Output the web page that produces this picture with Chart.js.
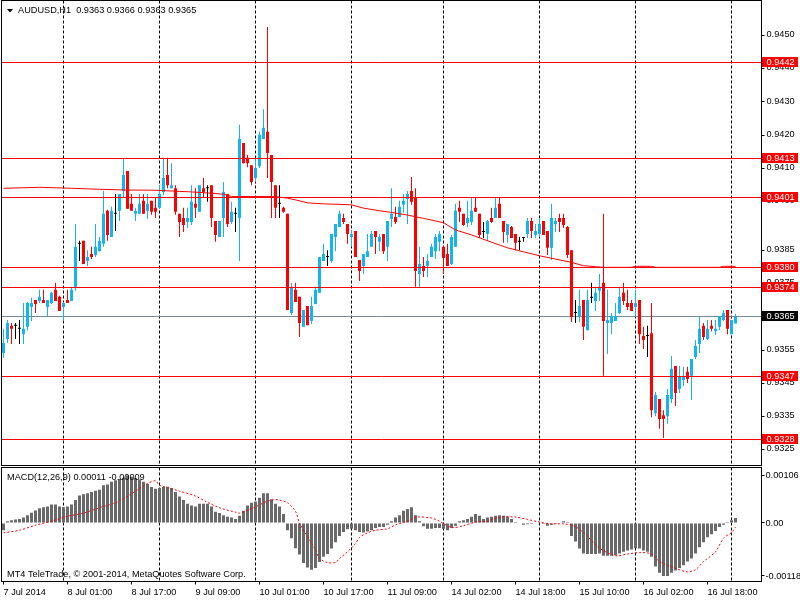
<!DOCTYPE html>
<html>
<head>
<meta charset="utf-8">
<script src="https://cdn.jsdelivr.net/npm/chart.js@4.4.1/dist/chart.umd.min.js"></script>
<style>
  html, body { margin: 0; padding: 0; background: #fff; }
  #wrap { position: relative; width: 800px; height: 600px; overflow: hidden; background: #fff; }
  canvas { position: absolute; left: 0; }
  #main { top: 0; }
  #macd { top: 466px; }
</style>
</head>
<body>
<div id="wrap">
  <canvas id="main" width="800" height="466"></canvas>
  <canvas id="macd" width="800" height="134"></canvas>
</div>
<script>
// AUDUSD H1, one slot per hourly bar (190 slots, 184 bars drawn)
const SLOTS = 190;

const open = [
  0.93541, 0.93583, 0.93623, 0.93623, 0.93614, 0.93598, 0.93620, 0.93680, 0.93701, 0.93698,
  0.93701, 0.93680, 0.93692, 0.93732, 0.93711, 0.93680, 0.93701, 0.93698, 0.93741, 0.93871,
  0.93880, 0.93819, 0.93840, 0.93837, 0.93849, 0.93871, 0.93971, 0.93892, 0.93962, 0.93971,
  0.94031, 0.94091, 0.93992, 0.93962, 0.93962, 0.94001, 0.93971, 0.94001, 0.93980, 0.93980,
  0.94028, 0.94079, 0.94039, 0.94039, 0.93962, 0.93949, 0.93937, 0.93937, 0.93992, 0.93968,
  0.94039, 0.94039, 0.94048, 0.93940, 0.93892, 0.93949, 0.94022, 0.93937, 0.93962, 0.93949,
  0.94176, 0.94131, 0.94109, 0.94070, 0.94106, 0.94188, 0.94210, 0.94140, 0.94048, 0.93992,
  0.93980, 0.93962, 0.93662, 0.93732, 0.93711, 0.93620, 0.93683, 0.93638, 0.93689, 0.93723,
  0.93819, 0.93831, 0.93819, 0.93892, 0.93922, 0.93949, 0.93931, 0.93892, 0.93910, 0.93822,
  0.93804, 0.93831, 0.93862, 0.93910, 0.93877, 0.93901, 0.93862, 0.93946, 0.93952, 0.93952,
  0.93989, 0.94007, 0.94031, 0.94013, 0.93780, 0.93804, 0.93804, 0.93831, 0.93849, 0.93877,
  0.93862, 0.93840, 0.93810, 0.93862, 0.93980, 0.93962, 0.93934, 0.93937, 0.93980, 0.93962,
  0.93907, 0.93901, 0.93949, 0.93949, 0.93992, 0.93940, 0.93898, 0.93922, 0.93901, 0.93877,
  0.93889, 0.93901, 0.93940, 0.93898, 0.93901, 0.93940, 0.93910, 0.93859, 0.93931, 0.93949,
  0.93949, 0.93922, 0.93852, 0.93662, 0.93650, 0.93701, 0.93610, 0.93708, 0.93698, 0.93729,
  0.93753, 0.93632, 0.93632, 0.93638, 0.93662, 0.93723, 0.93692, 0.93692, 0.93680, 0.93701,
  0.93592, 0.93592, 0.93601, 0.93359, 0.93402, 0.93353, 0.93350, 0.93402, 0.93502, 0.93432,
  0.93459, 0.93484, 0.93472, 0.93529, 0.93568, 0.93623, 0.93583, 0.93623, 0.93607, 0.93620,
  0.93641, 0.93671, 0.93598, 0.93630
];
const high = [
  0.93614, 0.93641, 0.93632, 0.93632, 0.93641, 0.93692, 0.93695, 0.93708, 0.93701, 0.93732,
  0.93732, 0.93701, 0.93726, 0.93753, 0.93714, 0.93695, 0.93732, 0.93741, 0.93931, 0.93880,
  0.93880, 0.93852, 0.93862, 0.93931, 0.93892, 0.94031, 0.93974, 0.93983, 0.94022, 0.94022,
  0.94131, 0.94091, 0.94022, 0.93980, 0.94022, 0.94022, 0.94022, 0.94001, 0.94013, 0.94048,
  0.94131, 0.94131, 0.94115, 0.94048, 0.93962, 0.93980, 0.93980, 0.94048, 0.94039, 0.94048,
  0.94070, 0.94048, 0.94048, 0.93940, 0.93940, 0.94058, 0.94022, 0.93998, 0.93980, 0.94231,
  0.94176, 0.94140, 0.94109, 0.94131, 0.94210, 0.94278, 0.94527, 0.94140, 0.94048, 0.94048,
  0.93983, 0.93962, 0.93753, 0.93753, 0.93711, 0.93671, 0.93683, 0.93711, 0.93741, 0.93831,
  0.93871, 0.93852, 0.93901, 0.93931, 0.93971, 0.93962, 0.93931, 0.93910, 0.93910, 0.93822,
  0.93840, 0.93901, 0.93910, 0.93910, 0.93901, 0.93901, 0.93940, 0.94039, 0.93983, 0.94001,
  0.94022, 0.94031, 0.94073, 0.94039, 0.93862, 0.93831, 0.93840, 0.93871, 0.93901, 0.93910,
  0.93865, 0.93871, 0.93898, 0.93992, 0.94001, 0.93962, 0.94001, 0.94010, 0.94010, 0.93962,
  0.93937, 0.93943, 0.93980, 0.94010, 0.94010, 0.93940, 0.93931, 0.93925, 0.93901, 0.93892,
  0.93889, 0.93949, 0.93949, 0.93931, 0.93949, 0.93940, 0.93910, 0.93992, 0.93949, 0.93962,
  0.93962, 0.93925, 0.93852, 0.93701, 0.93732, 0.93701, 0.93732, 0.93753, 0.93741, 0.93780,
  0.93962, 0.93732, 0.93662, 0.93692, 0.93741, 0.93753, 0.93732, 0.93701, 0.93732, 0.93701,
  0.93620, 0.93623, 0.93692, 0.93423, 0.93402, 0.93368, 0.93432, 0.93532, 0.93502, 0.93502,
  0.93499, 0.93499, 0.93523, 0.93580, 0.93653, 0.93632, 0.93641, 0.93641, 0.93641, 0.93653,
  0.93671, 0.93671, 0.93641, 0.93660
];
const low = [
  0.93526, 0.93571, 0.93568, 0.93583, 0.93568, 0.93568, 0.93610, 0.93638, 0.93662, 0.93692,
  0.93692, 0.93653, 0.93689, 0.93698, 0.93668, 0.93641, 0.93692, 0.93698, 0.93729, 0.93819,
  0.93810, 0.93804, 0.93825, 0.93831, 0.93849, 0.93862, 0.93880, 0.93892, 0.93910, 0.93940,
  0.94010, 0.93977, 0.93971, 0.93940, 0.93962, 0.93962, 0.93946, 0.93959, 0.93949, 0.93977,
  0.94019, 0.94039, 0.94039, 0.93959, 0.93892, 0.93907, 0.93919, 0.93928, 0.93949, 0.93968,
  0.94010, 0.93998, 0.93922, 0.93877, 0.93892, 0.93892, 0.93922, 0.93931, 0.93907, 0.93819,
  0.94115, 0.94103, 0.94048, 0.94058, 0.94100, 0.94188, 0.94070, 0.93949, 0.93949, 0.93949,
  0.93965, 0.93671, 0.93656, 0.93695, 0.93589, 0.93620, 0.93625, 0.93629, 0.93689, 0.93723,
  0.93819, 0.93804, 0.93813, 0.93849, 0.93922, 0.93931, 0.93871, 0.93862, 0.93831, 0.93759,
  0.93780, 0.93831, 0.93862, 0.93840, 0.93849, 0.93840, 0.93819, 0.93922, 0.93931, 0.93952,
  0.93965, 0.93931, 0.93989, 0.93741, 0.93741, 0.93771, 0.93771, 0.93831, 0.93825, 0.93849,
  0.93780, 0.93804, 0.93807, 0.93862, 0.93937, 0.93925, 0.93922, 0.93928, 0.93968, 0.93889,
  0.93889, 0.93880, 0.93934, 0.93949, 0.93949, 0.93874, 0.93874, 0.93889, 0.93852, 0.93852,
  0.93877, 0.93889, 0.93889, 0.93889, 0.93892, 0.93898, 0.93837, 0.93822, 0.93907, 0.93907,
  0.93919, 0.93828, 0.93635, 0.93632, 0.93635, 0.93580, 0.93610, 0.93692, 0.93668, 0.93698,
  0.93472, 0.93538, 0.93598, 0.93638, 0.93659, 0.93686, 0.93671, 0.93668, 0.93650, 0.93568,
  0.93553, 0.93529, 0.93347, 0.93350, 0.93312, 0.93284, 0.93327, 0.93390, 0.93381, 0.93420,
  0.93441, 0.93450, 0.93399, 0.93523, 0.93541, 0.93580, 0.93580, 0.93607, 0.93595, 0.93610,
  0.93638, 0.93598, 0.93598, 0.93630
];
const close = [
  0.93571, 0.93632, 0.93614, 0.93623, 0.93614, 0.93614, 0.93692, 0.93692, 0.93689, 0.93711,
  0.93692, 0.93701, 0.93723, 0.93698, 0.93668, 0.93692, 0.93692, 0.93732, 0.93862, 0.93871,
  0.93810, 0.93831, 0.93831, 0.93862, 0.93880, 0.93962, 0.93898, 0.93971, 0.93962, 0.94022,
  0.94079, 0.93977, 0.93971, 0.93971, 0.93992, 0.93962, 0.93992, 0.93968, 0.93968, 0.94022,
  0.94070, 0.94048, 0.94048, 0.93968, 0.93937, 0.93928, 0.93949, 0.93998, 0.93980, 0.94048,
  0.94028, 0.94039, 0.93949, 0.93898, 0.93940, 0.94028, 0.93931, 0.93968, 0.93962, 0.94188,
  0.94115, 0.94115, 0.94058, 0.94100, 0.94201, 0.94222, 0.94146, 0.94058, 0.93980, 0.93992,
  0.93968, 0.93671, 0.93741, 0.93695, 0.93632, 0.93671, 0.93625, 0.93683, 0.93732, 0.93831,
  0.93840, 0.93831, 0.93901, 0.93931, 0.93962, 0.93937, 0.93901, 0.93901, 0.93831, 0.93789,
  0.93840, 0.93849, 0.93901, 0.93892, 0.93892, 0.93849, 0.93940, 0.93962, 0.93937, 0.93983,
  0.94001, 0.94022, 0.93998, 0.93789, 0.93810, 0.93789, 0.93819, 0.93862, 0.93892, 0.93901,
  0.93828, 0.93804, 0.93892, 0.93971, 0.93968, 0.93928, 0.93949, 0.93971, 0.93968, 0.93898,
  0.93907, 0.93940, 0.93937, 0.93980, 0.93949, 0.93907, 0.93931, 0.93889, 0.93874, 0.93877,
  0.93889, 0.93940, 0.93910, 0.93910, 0.93931, 0.93898, 0.93859, 0.93949, 0.93940, 0.93937,
  0.93928, 0.93837, 0.93650, 0.93662, 0.93683, 0.93620, 0.93701, 0.93708, 0.93723, 0.93741,
  0.93638, 0.93641, 0.93653, 0.93653, 0.93711, 0.93698, 0.93680, 0.93668, 0.93692, 0.93598,
  0.93580, 0.93592, 0.93368, 0.93414, 0.93341, 0.93341, 0.93414, 0.93493, 0.93420, 0.93469,
  0.93469, 0.93462, 0.93523, 0.93562, 0.93614, 0.93589, 0.93614, 0.93614, 0.93614, 0.93653,
  0.93662, 0.93614, 0.93641, 0.93650
];

// moving average at these bars
const maIdx = [0, 9, 17, 24, 30, 38, 47, 51, 55, 57, 68, 71, 73, 76, 80, 87, 90, 94, 97, 101,
  105, 110, 113, 117, 122, 126, 130, 134, 138, 142, 145, 148, 150, 157, 158, 162, 163, 179, 180, 183];
const maVal = [0.94039, 0.94042, 0.94039, 0.94036, 0.94034, 0.94033, 0.94028, 0.94025, 0.94021, 0.94014,
  0.94014, 0.94009, 0.94004, 0.93995, 0.93992, 0.93989, 0.93979, 0.93971, 0.93966, 0.93958,
  0.93948, 0.93935, 0.93913, 0.93898, 0.93876, 0.93859, 0.93847, 0.93835, 0.93825, 0.93815,
  0.93805, 0.93802, 0.93800, 0.93800, 0.93803, 0.93803, 0.93800, 0.93800, 0.93803, 0.93803];

// MACD(12,26,9) in points (1 point = 0.00001)
const macdHist = [
  -16, 4, 6, 8, 9, 12, 17, 23, 28, 33,
  35, 37, 41, 41, 37, 35, 37, 41, 51, 61,
  64, 66, 69, 72, 74, 84, 86, 92, 95, 98,
  101, 106, 103, 100, 97, 92, 87, 80, 76, 78,
  80, 81, 78, 69, 59, 51, 43, 39, 37, 43,
  43, 43, 37, 25, 22, 17, 14, 12, 9, 16,
  27, 39, 45, 48, 56, 66, 66, 53, 43, 37,
  20, -16, -34, -56, -70, -89, -99, -104, -100, -87,
  -75, -69, -57, -43, -29, -20, -14, -13, -16, -20,
  -21, -19, -16, -11, -9, -9, -4, 4, 12, 17,
  27, 31, 35, 17, 4, -7, -13, -13, -11, -11,
  -13, -16, -11, -6, 4, 6, 9, 14, 20, 16,
  9, 12, 14, 16, 17, 16, 14, 9, 2, -1,
  -4, -3, -2, -1, -1, -2, -6, -4, -2, 0,
  4, 2, -29, -41, -57, -68, -69, -69, -69, -68,
  -73, -73, -73, -72, -68, -64, -61, -59, -56, -57,
  -61, -64, -75, -97, -111, -118, -118, -111, -106, -100,
  -94, -86, -79, -68, -54, -43, -32, -25, -18, -9,
  -4, 2, 6, 11
];
const sigIdx = [0, 4, 8, 12, 16, 20, 24, 29, 33, 36, 38, 39, 41, 44, 48, 51, 54, 58, 59, 63,
  66, 68, 69, 71, 73, 74, 76, 78, 79, 81, 83, 84, 86, 88, 89, 91, 93, 96, 98, 101,
  103, 107, 109, 112, 115, 118, 121, 124, 128, 131, 134, 137, 140, 143, 146, 149, 153, 156, 159, 162,
  164, 168, 171, 173, 175, 178, 180, 182, 183];
const sigVal = [-22, -16, -5, 4, 15, 22, 34, 49, 71, 88, 94, 84, 79, 71, 60, 46, 34, 24, 22, 36,
  49, 52, 51, 45, 26, 0, -30, -60, -79, -88, -88, -79, -64, -46, -32, -22, -16, -13, -4, 4,
  13, 11, 4, -10, -6, 2, 4, 13, 13, 8, 2, -2, -2, -8, -30, -56, -73, -69, -66, -69,
  -86, -101, -109, -104, -86, -64, -34, -21, -9];

// horizontal levels and axis ticks
const levels = [0.9442, 0.9413, 0.9401, 0.9380, 0.9374, 0.9347, 0.9328];
const bidPrice = 0.9365;
const priceTicks = [0.9450, 0.9440, 0.9430, 0.9420, 0.9410, 0.9400, 0.9385, 0.9375, 0.9365, 0.9355, 0.9345, 0.9335, 0.9325];
const macdTicks = [106, 0, -118];
const timeTickIdx = [0, 16, 32, 48, 64, 80, 96, 112, 128, 144, 160, 176];
const timeTickText = ['7 Jul 2014', '8 Jul 01:00', '8 Jul 17:00', '9 Jul 09:00', '10 Jul 01:00', '10 Jul 17:00',
  '11 Jul 09:00', '14 Jul 02:00', '14 Jul 18:00', '15 Jul 10:00', '16 Jul 02:00', '16 Jul 18:00'];
const dayIdx = [15, 39, 63, 87, 110, 134, 158, 182];

const BULL = '#14b4f0', BEAR = '#ff0000', DOJI = '#000000';
const FONT = '"Liberation Sans", Arial, sans-serif';
const FSIZE = 9.2;

Chart.defaults.font.family = FONT;
Chart.defaults.font.size = FSIZE;
Chart.defaults.color = '#000';

const slotLabels = Array.from({ length: SLOTS }, (_, i) => 'b' + i);

function candleColor(i) {
  if (close[i] > open[i]) return BULL;
  if (close[i] < open[i]) return BEAR;
  return DOJI;
}

const maData = new Array(SLOTS).fill(null);
maIdx.forEach((b, k) => { maData[b] = maVal[k]; });
const sigData = new Array(SLOTS).fill(null);
sigIdx.forEach((b, k) => { sigData[b] = sigVal[k]; });

const dayGrid = ctx => dayIdx.includes(ctx.index) ? '#000' : 'rgba(0,0,0,0)';

// keep chart areas exactly where MT4 puts them (no label overflow padding)
function noPad(s) {
  s.paddingTop = 0; s.paddingBottom = 0; s.paddingLeft = 0; s.paddingRight = 0;
}

function drawFrame(ctx, a) {
  ctx.save();
  ctx.strokeStyle = '#000';
  ctx.lineWidth = 1;
  ctx.strokeRect(a.left, a.top, a.right - a.left, a.bottom - a.top);
  ctx.restore();
}

function hLine(ctx, a, yPix, color) {
  const yy = Math.floor(yPix) + 0.5;
  ctx.save();
  ctx.strokeStyle = color;
  ctx.lineWidth = 1;
  ctx.beginPath();
  ctx.moveTo(a.left, yy);
  ctx.lineTo(a.right, yy);
  ctx.stroke();
  ctx.restore();
}

function priceBox(ctx, a, yPix, text, fill) {
  const yc = Math.floor(yPix) + 0.5;
  ctx.save();
  ctx.fillStyle = fill;
  ctx.fillRect(Math.ceil(a.right), yc - 5.5, 36, 10);
  ctx.fillStyle = '#fff';
  ctx.font = FSIZE + 'px ' + FONT;
  ctx.textBaseline = 'middle';
  ctx.textAlign = 'left';
  ctx.fillText(text, a.right + 5, yc);
  ctx.restore();
}

const mainDecor = {
  id: 'mainDecor',
  beforeDatasetsDraw(chart) {
    const { ctx, chartArea: a, scales: { y } } = chart;
    hLine(ctx, a, y.getPixelForValue(bidPrice), '#778899');
  },
  afterDatasetsDraw(chart) {
    const { ctx, chartArea: a, scales: { y } } = chart;
    levels.forEach(v => hLine(ctx, a, y.getPixelForValue(v), '#ff0000'));
  },
  afterDraw(chart) {
    const { ctx, chartArea: a, scales: { y } } = chart;
    drawFrame(ctx, a);
    levels.forEach(v => priceBox(ctx, a, y.getPixelForValue(v), v.toFixed(4), '#ff0000'));
    priceBox(ctx, a, y.getPixelForValue(bidPrice), bidPrice.toFixed(4), '#000');
    // header
    ctx.save();
    ctx.fillStyle = '#000';
    ctx.beginPath();
    ctx.moveTo(7, 9); ctx.lineTo(13, 9); ctx.lineTo(10, 12.5); ctx.closePath();
    ctx.fill();
    ctx.font = FSIZE + 'px ' + FONT;
    ctx.textBaseline = 'middle';
    ctx.fillText('AUDUSD,H1  ' + [open[183], high[183], low[183], close[183]].map(v => v.toFixed(4)).join(' '), 18, 10.5);
    ctx.restore();
  }
};

new Chart(document.getElementById('main'), {
  type: 'bar',
  data: {
    labels: slotLabels,
    datasets: [
      {
        label: 'Wick',
        data: low.map((l, i) => [l, high[i]]),
        backgroundColor: ctx => candleColor(ctx.dataIndex),
        barThickness: 1,
        grouped: false,
        inflateAmount: 0,
        order: 2
      },
      {
        label: 'Body',
        data: open.map((o, i) => [o, close[i]]),
        backgroundColor: ctx => candleColor(ctx.dataIndex),
        barThickness: 3,
        minBarLength: 1,
        grouped: false,
        inflateAmount: 0,
        order: 1
      },
      {
        type: 'line',
        label: 'MA',
        data: maData,
        borderColor: '#ff0000',
        borderWidth: 1,
        pointRadius: 0,
        spanGaps: true,
        tension: 0,
        order: 0
      }
    ]
  },
  options: {
    responsive: false,
    devicePixelRatio: 1,
    animation: false,
    events: [],
    layout: { padding: { left: 1.5, top: 0.5, right: 0, bottom: 0 } },
    plugins: { legend: { display: false }, tooltip: { enabled: false } },
    scales: {
      x: {
        type: 'category',
        offset: true,
        grid: { offset: false, color: dayGrid, lineWidth: 1, drawTicks: false },
        border: { display: false, dash: [3, 2] },
        ticks: { display: false, autoSkip: false },
        afterFit: s => { s.height = 0.5; noPad(s); }
      },
      y: {
        position: 'right',
        min: 0.9320075,
        max: 0.9460687,
        grid: { drawOnChartArea: false, drawTicks: true, tickLength: 3, tickColor: '#000' },
        border: { display: false },
        ticks: { padding: 2, labelOffset: -1, callback: v => v.toFixed(4) },
        afterBuildTicks: s => { s.ticks = priceTicks.map(v => ({ value: v })); },
        afterFit: s => { s.width = 38.5; noPad(s); }
      }
    }
  },
  plugins: [mainDecor]
});

const macdDecor = {
  id: 'macdDecor',
  afterDraw(chart) {
    const { ctx, chartArea: a } = chart;
    drawFrame(ctx, a);
    ctx.save();
    ctx.fillStyle = '#000';
    ctx.font = FSIZE + 'px ' + FONT;
    ctx.textBaseline = 'middle';
    const fmt = v => (v / 100000).toFixed(5);
    ctx.fillText('MACD(12,26,9) ' + fmt(macdHist[183]) + ' ' + fmt(sigVal[sigVal.length - 1]), 7, 11);
    ctx.fillText('MT4 TeleTrade, \u00A9 2001-2014, MetaQuotes Software Corp.', 7, 108.5);
    ctx.restore();
  }
};

new Chart(document.getElementById('macd'), {
  type: 'bar',
  data: {
    labels: slotLabels,
    datasets: [
      {
        label: 'MACD',
        data: macdHist,
        backgroundColor: '#696969',
        barThickness: 3,
        grouped: false,
        inflateAmount: 0,
        order: 1
      },
      {
        type: 'line',
        label: 'Signal',
        data: sigData,
        borderColor: '#ff0000',
        borderWidth: 1,
        borderDash: [2, 2],
        pointRadius: 0,
        spanGaps: true,
        tension: 0.3,
        order: 0
      }
    ]
  },
  options: {
    responsive: false,
    devicePixelRatio: 1,
    animation: false,
    events: [],
    layout: { padding: { left: 1.5, top: 1.5, right: 0, bottom: 0 } },
    plugins: { legend: { display: false }, tooltip: { enabled: false } },
    scales: {
      x: {
        type: 'category',
        offset: true,
        grid: {
          offset: false,
          color: dayGrid,
          lineWidth: 1,
          drawTicks: true,
          tickLength: 3,
          tickColor: ctx => timeTickIdx.includes(ctx.index) ? '#000' : 'rgba(0,0,0,0)'
        },
        border: { display: false, dash: [3, 2] },
        ticks: {
          autoSkip: false,
          maxRotation: 0,
          minRotation: 0,
          align: 'start',
          padding: 2,
          callback: (v, i) => {
            const k = timeTickIdx.indexOf(i);
            return k >= 0 ? timeTickText[k] : '';
          }
        },
        afterFit: s => { s.height = 18.5; noPad(s); }
      },
      y: {
        position: 'right',
        min: -130.3,
        max: 123.6,
        grid: { drawOnChartArea: false, drawTicks: true, tickLength: 3, tickColor: '#000' },
        border: { display: false },
        ticks: {
          padding: 1,
          callback: v => v === 0 ? '0.00' : (v / 100000).toFixed(5)
        },
        afterBuildTicks: s => { s.ticks = macdTicks.map(v => ({ value: v })); },
        afterFit: s => { s.width = 38.5; noPad(s); }
      }
    }
  },
  plugins: [macdDecor]
});
</script>
</body>
</html>
